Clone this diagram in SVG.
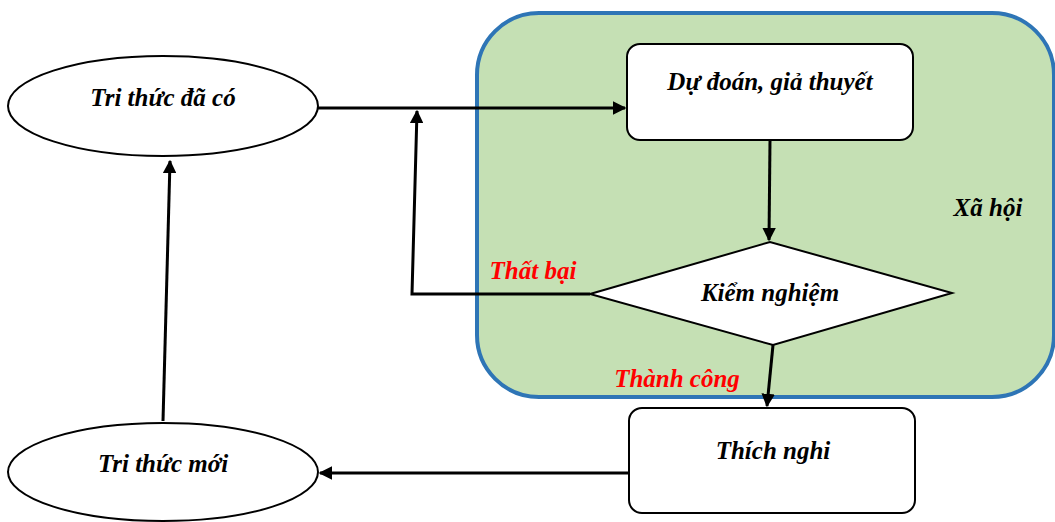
<svg xmlns="http://www.w3.org/2000/svg" width="1055" height="522" viewBox="0 0 1055 522">
<defs>
<style>
.t{font-family:"Liberation Serif","Times New Roman",serif;font-style:italic;font-weight:bold;font-size:25px;fill:#000;text-anchor:middle}
.r{fill:#FF0000}
.n{fill:#fff;stroke:#000;stroke-width:2}
.c{fill:none;stroke:#000;stroke-width:3}
</style>
<marker id="ah" viewBox="0 0 10 10" refX="9" refY="5" markerWidth="4.5" markerHeight="4.5" orient="auto" markerUnits="strokeWidth">
<path d="M0,0 L10,5 L0,10 z" fill="#000"/>
</marker>
</defs>
<rect width="1055" height="522" fill="#fff"/>
<g id="xa-hoi">
<rect x="477" y="13" width="577" height="384" rx="62" fill="#C5E0B4" stroke="#2E75B6" stroke-width="4"/>
<text class="t" x="988" y="216">Xã hội</text>
</g>
<g id="connectors">
<line class="c" x1="318" y1="108" x2="625" y2="108" marker-end="url(#ah)"/>
<polyline class="c" points="590,294 412,294 417,111" marker-end="url(#ah)"/>
<line class="c" x1="770" y1="140" x2="769" y2="240" marker-end="url(#ah)"/>
<line class="c" x1="773" y1="345" x2="767" y2="406" marker-end="url(#ah)"/>
<line class="c" x1="629" y1="473" x2="320" y2="473" marker-end="url(#ah)"/>
<line class="c" x1="163" y1="421" x2="170" y2="161" marker-end="url(#ah)"/>
<text class="t r" x="533" y="279">Thất bại</text>
<text class="t r" x="677" y="387">Thành công</text>
</g>
<g id="tri-thuc-da-co">
<ellipse class="n" cx="163" cy="106" rx="155" ry="50"/>
<text class="t" x="163" y="106">Tri thức đã có</text>
</g>
<g id="du-doan">
<rect class="n" x="627" y="44" width="286" height="96" rx="13"/>
<text class="t" x="770" y="90">Dự đoán, giả thuyết</text>
</g>
<g id="kiem-nghiem">
<polygon class="n" points="590,294 770,242 952,293 773,345"/>
<text class="t" x="770" y="301">Kiểm nghiệm</text>
</g>
<g id="thich-nghi">
<rect class="n" x="629" y="408" width="286" height="105" rx="13"/>
<text class="t" x="773" y="459">Thích nghi</text>
</g>
<g id="tri-thuc-moi">
<ellipse class="n" cx="163" cy="472" rx="155" ry="49"/>
<text class="t" x="163" y="472">Tri thức mới</text>
</g>
</svg>
